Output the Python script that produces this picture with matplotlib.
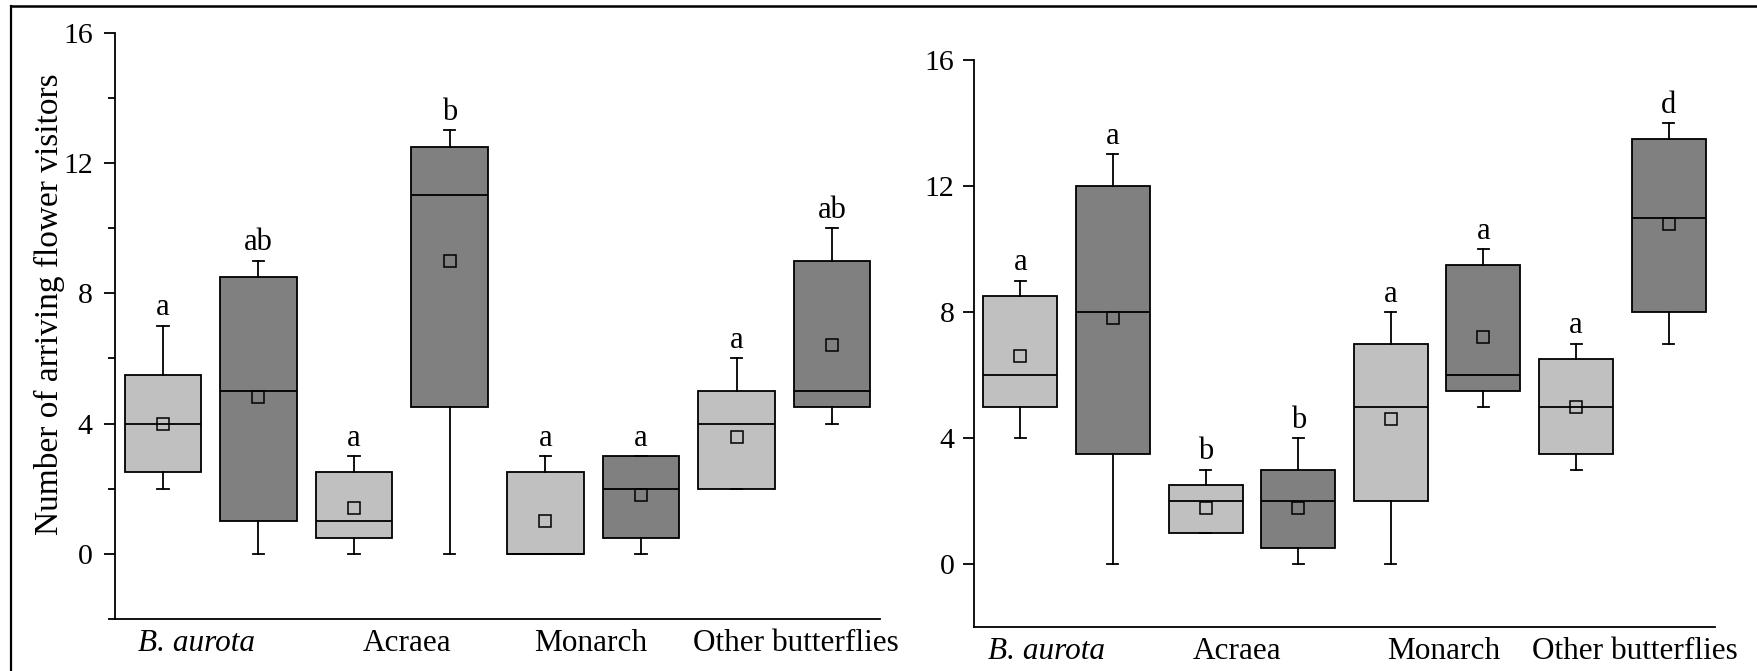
import matplotlib
matplotlib.use("Agg")
import matplotlib.pyplot as plt
from matplotlib.lines import Line2D
from matplotlib.ticker import MultipleLocator

plt.rcParams['font.family'] = ['Liberation Serif', 'DejaVu Serif']

# ---------------- data ----------------
categories = ["B. aurota", "Acraea", "Monarch", "Other butterflies"]

# left panel: boxes in order (light, dark) per category
left_q1 = [2.5, 1.0, 0.5, 4.5, 0.0, 0.5, 2.0, 4.5]
left_med = [4.0, 5.0, 1.0, 11.0, 0.0, 2.0, 4.0, 5.0]
left_q3 = [5.5, 8.5, 2.5, 12.5, 2.5, 3.0, 5.0, 9.0]
left_lo = [2.0, 0.0, 0.0, 0.0, 0.0, 0.0, 2.0, 4.0]
left_hi = [7.0, 9.0, 3.0, 13.0, 3.0, 3.0, 6.0, 10.0]
left_mean = [4.0, 4.8, 1.4, 9.0, 1.0, 1.8, 3.6, 6.4]
left_letters = ["a", "ab", "a", "b", "a", "a", "a", "ab"]

# right panel
right_q1 = [5.0, 3.5, 1.0, 0.5, 2.0, 5.5, 3.5, 8.0]
right_med = [6.0, 8.0, 2.0, 2.0, 5.0, 6.0, 5.0, 11.0]
right_q3 = [8.5, 12.0, 2.5, 3.0, 7.0, 9.5, 6.5, 13.5]
right_lo = [4.0, 0.0, 1.0, 0.0, 0.0, 5.0, 3.0, 7.0]
right_hi = [9.0, 13.0, 3.0, 4.0, 8.0, 10.0, 7.0, 14.0]
right_mean = [6.6, 7.8, 1.8, 1.8, 4.6, 7.2, 5.0, 10.8]
right_letters = ["a", "a", "b", "b", "a", "a", "a", "d"]

yticks = [0, 4, 8, 12, 16]
ylabel = "Number of arriving flower visitors"

LIGHT = "#c0c0c0"
DARK = "#808080"
FS_TICK = 21.5
FS_CAT = 22.5
FS_LET = 22
FS_YLAB = 24

fig = plt.figure(figsize=(17.58, 6.71), dpi=100)
W, H = 1758, 671

ax1 = fig.add_axes([115 / W, 1 - 619 / H, 765 / W, (619 - 32.5) / H])
ax2 = fig.add_axes([974 / W, 1 - 627.3 / H, 741 / W, (627.3 - 59.9) / H])


def draw(ax, q1, med, q3, lo, hi, mean, letters, label_pos, minor, pad):
    stats = []
    for i in range(len(q1)):
        stats.append(dict(q1=q1[i], med=med[i], q3=q3[i], whislo=lo[i],
                          whishi=hi[i], mean=mean[i], fliers=[]))
    positions = list(range(1, len(q1) + 1))
    bp = ax.bxp(stats, positions=positions, widths=0.8, patch_artist=True,
                showmeans=True, showfliers=False, capwidths=0.12,
                boxprops=dict(edgecolor="black", linewidth=1.3),
                medianprops=dict(color="black", linewidth=1.3),
                whiskerprops=dict(color="black", linewidth=1.3),
                capprops=dict(color="black", linewidth=1.3),
                meanprops=dict(marker="s", markerfacecolor="none",
                               markeredgecolor="black", markersize=8,
                               markeredgewidth=1.1))
    for i, box in enumerate(bp["boxes"]):
        box.set_facecolor(LIGHT if i % 2 == 0 else DARK)
    for p, h, t in zip(positions, hi, letters):
        ax.annotate(t, xy=(p, h), xytext=(0, 7.5), textcoords="offset points",
                    ha="center", va="baseline", fontsize=FS_LET)
    ax.set_xlim(0.5, 8.5)
    ax.set_ylim(-2, 16)
    ax.set_yticks(yticks)
    ax.set_yticklabels([str(v) for v in yticks])
    if minor:
        ax.yaxis.set_minor_locator(MultipleLocator(2))
        ax.tick_params(axis="y", which="minor", length=5, width=1.3)
    ax.tick_params(axis="y", which="major", length=8, width=1.3, pad=pad,
                   labelsize=FS_TICK)
    ax.set_xticks(label_pos)
    ax.set_xticklabels(categories, fontsize=FS_CAT)
    ax.get_xticklabels()[0].set_style("italic")
    ax.tick_params(axis="x", length=0, pad=7)
    for s in ("top", "right"):
        ax.spines[s].set_visible(False)
    for s in ("left", "bottom"):
        ax.spines[s].set_linewidth(1.3)


draw(ax1, left_q1, left_med, left_q3, left_lo, left_hi, left_mean,
     left_letters, [1.35, 3.55, 5.47, 7.62], True, 8)
draw(ax2, right_q1, right_med, right_q3, right_lo, right_hi, right_mean,
     right_letters, [1.28, 3.34, 5.57, 7.64], False, 6)

ax1.set_ylabel(ylabel, fontsize=FS_YLAB)
ax1.yaxis.set_label_coords(-0.066, 0.537)

# outer frame (top and left edges)
fig.add_artist(Line2D([11.5 / W, 1.0], [1 - 6 / H, 1 - 6 / H],
                      transform=fig.transFigure, color="black", linewidth=1.8))
fig.add_artist(Line2D([11.5 / W, 11.5 / W], [0.0, 1 - 6 / H],
                      transform=fig.transFigure, color="black", linewidth=1.6))

fig.savefig("out.png", dpi=100)
